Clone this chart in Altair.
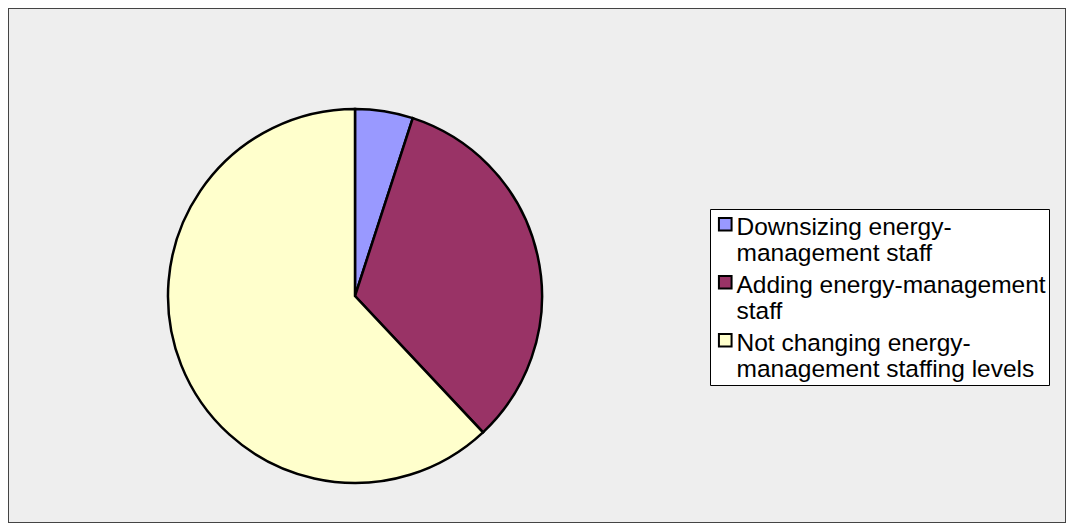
import altair as alt
import pandas as pd

categories = [
    "Downsizing energy-management staff",
    "Adding energy-management staff",
    "Not changing energy-management staffing levels",
]
wrapped = [
    ["Downsizing energy-", "management staff"],
    ["Adding energy-management", "staff"],
    ["Not changing energy-", "management staffing levels"],
]
values = [5, 33, 62]
colors = ["#9999FF", "#993366", "#FFFFCC"]

df = pd.DataFrame({"category": categories, "value": values, "order": list(range(len(categories)))})

expr_parts = []
for cat, lines in zip(categories, wrapped):
    arr = "[" + ", ".join("'" + l + "'" for l in lines) + "]"
    expr_parts.append(f"datum.label == '{cat}' ? {arr} : ")
label_expr = "".join(expr_parts) + "datum.label"

pie = alt.Chart(df).mark_arc(
    stroke="black", strokeWidth=2.5, outerRadius=187
).encode(
    theta=alt.Theta("value:Q", stack=True),
    order=alt.Order("order:Q"),
    color=alt.Color(
        "category:N",
        sort=categories,
        scale=alt.Scale(domain=categories, range=colors),
        legend=alt.Legend(
            title=None,
            orient="none",
            legendX=702,
            legendY=201,
            fillColor="white",
            strokeColor="black",
            padding=3,
            symbolType="square",
            symbolSize=160,
            symbolStrokeColor="black",
            symbolStrokeWidth=2,
            labelFont="Liberation Sans",
            labelFontSize=24.5,
            labelColor="black",
            labelLimit=500,
            labelOffset=0,
            labelBaseline="top",
            rowPadding=4,
            labelExpr=label_expr,
        ),
    ),
    x=alt.value(347),
    y=alt.value(288),
)

chart = pie.properties(
    width=1058,
    height=515,
    padding=0,
    autosize=alt.AutoSizeParams(type="none"),
).configure(
    style={"guide-label": {"lineHeight": 26, "dy": -8, "dx": -1}}
).configure_view(
    fill="#EEEEEE", stroke="#444444", strokeWidth=2
)

chart.save("out.html", embed_options={"renderer": "svg", "actions": False})
